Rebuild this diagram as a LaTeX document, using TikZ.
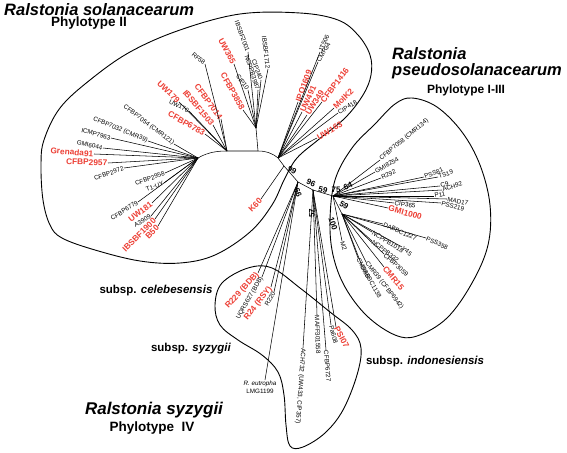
\documentclass[tikz,border=0pt]{standalone}
\usepackage{fontspec}
\setmainfont{Liberation Sans}
\definecolor{rd}{RGB}{236,62,52}
\begin{document}
\begin{tikzpicture}[x=1pt,y=-1pt,
  br/.style={line width=0.55pt},
  ol/.style={line width=0.9pt},
  bl/.style={font=\fontsize{6.3}{6.3}\selectfont,inner sep=0.5pt},
  rl/.style={font=\bfseries\fontsize{8.3}{8.3}\selectfont,text=rd,inner sep=0.5pt},
  num/.style={font=\bfseries\fontsize{8}{8}\selectfont,inner sep=0pt},
  ttl/.style={font=\bfseries\itshape\fontsize{16.5}{16.5}\selectfont,inner sep=0pt},
  sub/.style={font=\bfseries\fontsize{13.5}{13.5}\selectfont,inner sep=0pt},
  ssp/.style={font=\bfseries\fontsize{11.5}{11.5}\selectfont,inner sep=0pt}]
\useasboundingbox (0,0) rectangle (567,452);
% ---------- outlines ----------
\draw[ol] plot[smooth cycle,tension=0.6] coordinates {(41,165) (44,140) (60,108) (90,80) (130,52) (180,30) (240,14) (300,13) (338,20) (358,35) (370,55) (371,75) (363,95) (345,118) (318,140) (297,158) (285,178) (272,205) (250,232) (215,255) (180,263) (140,261) (95,250) (62,238) (50,225) (43,200)};
\draw[ol] plot[smooth cycle,tension=0.6] coordinates {(352,148) (375,124) (395,104) (412,98) (437,107) (462,132) (480,165) (490,205) (488,245) (472,283) (447,318) (417,336) (395,335) (367,316) (345,287) (333,255) (330,220) (335,180)};
\draw[ol] plot[smooth cycle,tension=0.6] coordinates {(248,268) (272,268) (300,288) (330,312) (352,330) (361,348) (357,375) (343,410) (325,433) (303,447) (290,446) (286,425) (284,395) (278,372) (262,355) (238,340) (220,325) (215,305) (222,283)};
% ---------- hubs ----------
\coordinate (L) at (198,158);
\coordinate (B) at (227,151);
\coordinate (Ct) at (256,128);
\coordinate (C) at (258,151);
\coordinate (D) at (278,158);
\coordinate (E) at (284,166);
\coordinate (F) at (298,182);
\coordinate (G) at (313,190);
\coordinate (I) at (333,196);
\coordinate (K) at (342,214);
% backbone
\draw[br] (L) .. controls (208,152) and (218,151) .. (B) -- (C) .. controls (266,151) and (272,153) .. (D) -- (E) -- (F) -- (G) -- (I);
\draw[br] (Ct) -- (C);
\draw[br] (I) -- (K);
% ---------- Phylotype II left fan ----------
\node[bl,anchor=east,rotate=-37] (n1) at (174,144) {CFBP7054 (CMR121)};
\node[bl,anchor=east,rotate=-22] (n2) at (148,141) {CFBP7032 (CMR39)};
\node[bl,anchor=east,rotate=-15] (n3) at (111,138) {ICMP7963};
\node[bl,anchor=east,rotate=-12] (n4) at (103,148) {GMI6044};
\node[rl,anchor=east,rotate=-5] (n5) at (94,154) {Grenada91};
\node[rl,anchor=east,rotate=-2] (n6) at (108,163) {CFBP2957};
\node[bl,anchor=east,rotate=20] (n7) at (124,168) {CFBP2972};
\node[bl,anchor=east,rotate=20] (n8) at (165,173) {CFBP2958};
\node[bl,anchor=east,rotate=20] (n9) at (164,183) {T1-UY};
\node[bl,anchor=east,rotate=32] (n10) at (138,202) {CFBP6779};
\node[rl,anchor=east,rotate=37] (n11) at (152,203) {UW181};
\node[bl,anchor=east,rotate=30] (n12) at (151,216) {A3909};
\node[rl,anchor=east,rotate=45] (n13) at (155,219) {IBSBF1900};
\node[rl,anchor=east,rotate=45] (n14) at (158,226) {B50};
\foreach \n in {n1,n2,n3,n4,n5,n6,n7,n8,n9,n10,n11,n12,n13,n14} \draw[br] (\n.east) -- (L);
% ---------- upper-left fan ----------
\node[rl,anchor=east,rotate=-44] (u1) at (179,102) {UW179};
\node[bl,anchor=east,rotate=-27] (u2) at (189,111) {UW170};
\node[rl,anchor=east,rotate=-30] (u3) at (205,134) {CFBP6783};
\node[rl,anchor=east,rotate=-54] (u4) at (221,119) {CFBP7014};
\node[rl,anchor=east,rotate=-50] (u5) at (213,125) {IBSBF1503};
\node[bl,anchor=east,rotate=-40] (u6) at (205,64) {RF58};
\foreach \n in {u1,u2,u3,u4,u5,u6} \draw[br] (\n.east) -- (B);
% ---------- upper fan ----------
\node[rl,anchor=east,rotate=-62] (v1) at (234,64) {UW365};
\node[rl,anchor=east,rotate=-61] (v2) at (243,110) {CFBP3858};
\node[bl,anchor=east,rotate=-70] (v3) at (248,52) {IBSBF2001};
\node[bl,anchor=east,rotate=-55] (v4) at (248,90) {CIP10};
\node[bl,anchor=east,rotate=-72] (v5) at (258,90) {NCPPB3987};
\node[bl,anchor=east,rotate=-70] (v6) at (261,80) {CIP240};
\node[bl,anchor=east,rotate=-83] (v7) at (268,69) {IBSBF1712};
\foreach \n in {v1,v2,v3,v4,v5,v6,v7} \draw[br] (\n.east) -- (Ct);
% ---------- upper-right fan ----------
\node[bl,anchor=west,rotate=65] (w1) at (320,52) {JT506};
\node[bl,anchor=west,rotate=60] (w2) at (318,62) {CMR34};
\node[rl,anchor=west,rotate=70] (w3) at (298,102) {IPO1609};
\node[rl,anchor=west,rotate=65] (w4) at (302,112) {UW491};
\node[rl,anchor=west,rotate=58] (w5) at (307,115) {UW349};
\node[rl,anchor=west,rotate=53] (w6) at (322,102) {CFBP1416};
\node[rl,anchor=west,rotate=45] (w7) at (334,108) {MolK2};
\node[bl,anchor=west,rotate=32] (w8) at (338,113) {CIP418};
\node[rl,anchor=west,rotate=30] (w9) at (317,138) {UW163};
\foreach \n in {w1,w2,w3,w4,w5,w6,w7,w8,w9} \draw[br] (D) -- (\n.west);
\node[rl,anchor=east,rotate=45] (k60) at (261,199) {K60};
\draw[br] (E) -- (k60.east);
% ---------- Phylotype I-III ----------
\node[bl,anchor=west,rotate=40] (p1) at (380,160) {CFBP7058 (CMR134)};
\node[bl,anchor=west,rotate=30] (p2) at (375,172) {GMI8254};
\node[bl,anchor=west,rotate=25] (p3) at (381,178) {R292};
\node[bl,anchor=west,rotate=22] (p4) at (424,177) {PSS81};
\node[bl,anchor=west,rotate=20] (p5) at (438,177) {TS19};
\node[bl,anchor=west,rotate=15] (p6) at (440,186) {C9};
\node[bl,anchor=west,rotate=18] (p7) at (442,190) {ACH92};
\node[bl,anchor=west,rotate=12] (p8) at (434,196) {P11};
\node[bl,anchor=west,rotate=-12] (p9) at (447,199) {MAD17};
\node[bl,anchor=west,rotate=-15] (p10) at (441,203) {PSS219};
\node[bl,anchor=west,rotate=-8] (p11) at (394,203) {CIP365};
\node[rl,anchor=west,rotate=-15] (p12) at (388,208) {GMI1000};
\foreach \n in {p1,p2,p3,p4,p5,p6,p7,p8,p9,p10,p11,p12} \draw[br] (I) -- (\n.west);
\node[bl,anchor=west,rotate=-25] (q1) at (426,238) {PSS358};
\node[bl,anchor=west,rotate=-24] (q2) at (383,224) {DABBC1227};
\node[bl,anchor=west,rotate=-40] (q3) at (402,247) {Y45};
\node[bl,anchor=west,rotate=-32] (q4) at (372,232) {NCPPB1018};
\node[bl,anchor=west,rotate=-38] (q5) at (372,241) {NCPPB332};
\node[bl,anchor=west,rotate=-42] (q6) at (384,254) {CFBP3059};
\node[rl,anchor=west,rotate=-50] (q7) at (384,267) {CMR15};
\node[bl,anchor=west,rotate=-52] (q8) at (366,262) {CMR39 (CFBP6942)};
\node[bl,anchor=west,rotate=-60] (q9) at (362,266) {DABBC1138};
\node[bl,anchor=west,rotate=-62] (q10) at (358,258) {CMR66};
\foreach \n in {q1,q2,q3,q4,q5,q6,q7,q8,q9,q10} \draw[br] (K) -- (\n.west);
\node[bl,anchor=west,rotate=-72] (m2) at (342,241) {M2};
\draw[br] (I) -- (m2.west);
% ---------- Phylotype IV ----------
\node[rl,anchor=east,rotate=48] (r1) at (258,273) {R229 (BDB)};
\node[bl,anchor=east,rotate=60] (r2) at (262,277) {UQRS627 (BDB)};
\node[rl,anchor=east,rotate=52] (r3) at (271,287) {R24 (RSY)};
\node[bl,anchor=east,rotate=60] (r4) at (274,292) {R220};
\foreach \n in {r1,r2,r3,r4} \draw[br] (\n.east) -- (F);
\node[font=\fontsize{6.3}{7.5}\selectfont,align=center,anchor=north,inner sep=0pt] (eu) at (260,381) {\textit{R. eutropha}\\LMG1199};
\draw[br] (eu.north) ++(5,-1) coordinate (eut) -- (F);
\node[bl,anchor=west,rotate=-94] (s1) at (303,348) {ACH732 (UW433, CIP357)};
\node[bl,anchor=west,rotate=-88] (s2) at (317,315) {MAFF301558};
\node[bl,anchor=west,rotate=-85] (s3) at (326,350) {CFBP6727};
\node[bl,anchor=west,rotate=-75] (s4) at (331,325) {Pa608};
\node[rl,anchor=west,rotate=-62] (s5) at (336,327) {PSI07};
\foreach \n in {s1,s2,s3,s4,s5} \draw[br] (G) -- (\n.west);
% ---------- bootstrap values ----------
\node[num,rotate=-30] at (292,170) {99};
\node[num,rotate=-25] at (311,183) {96};
\node[num,rotate=-15] at (323,190) {59};
\node[num] at (336,190) {75};
\node[num,rotate=25] at (348,186) {64};
\node[num,rotate=-70] at (298,193) {66};
\node[num,rotate=90] at (312,213) {57};
\node[num,rotate=-72] at (333,224) {100};
\node[num,rotate=-30] at (344,205) {59};
% ---------- titles ----------
\node[ttl,anchor=west] at (4,10) {Ralstonia solanacearum};
\node[sub] at (89,23) {Phylotype II};
\node[ttl,anchor=west] at (392,54) {Ralstonia};
\node[ttl,anchor=west] at (392,71) {pseudosolanacearum};
\node[font=\bfseries\fontsize{12}{12}\selectfont,inner sep=0pt] at (466,90) {Phylotype I-III};
\node[font=\bfseries\itshape\fontsize{17}{17}\selectfont,inner sep=0pt] at (154,410) {Ralstonia syzygii};
\node[sub] at (152,428) {Phylotype\ \ IV};
\node[ssp] at (156,291) {subsp. \textit{celebesensis}};
\node[ssp] at (191,349) {subsp. \textit{syzygii}};
\node[ssp] at (425,362) {subsp. \textit{indonesiensis}};
\end{tikzpicture}
\end{document}
